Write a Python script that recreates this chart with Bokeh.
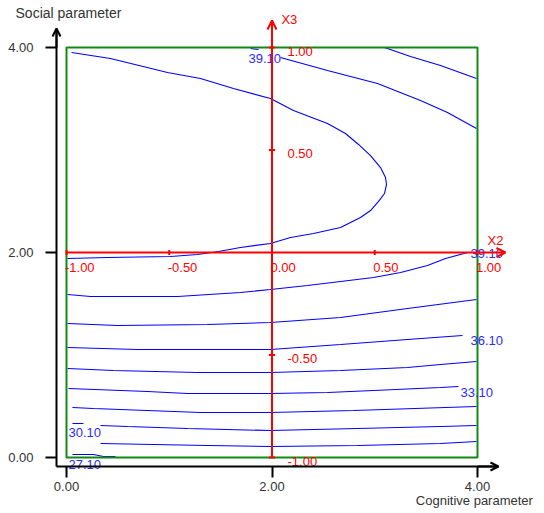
from bokeh.plotting import figure
from bokeh.models import Range1d, FixedTicker, PrintfTickFormatter, Arrow, OpenHead, Label
from bokeh.embed import file_html
from bokeh.resources import INLINE
from bokeh.core.properties import value

# ---- axes / annotation data ----
axis_ticks = [0.0, 2.0, 4.0]
box_x = [0.0, 4.0]
box_y = [0.0, 4.0]
x_title = "Cognitive parameter"
y_title = "Social parameter"
coded_ticks = [-1.0, -0.5, 0.0, 0.5, 1.0]
coded_labels = ["-1.00", "-0.50", "0.00", "0.50", "1.00"]
coded_ticks_v = [-1.0, -0.5, 0.5, 1.0]
coded_labels_v = ["-1.00", "-0.50", "0.50", "1.00"]

# ---- contour lines (data units) ----
levels = [43.6, 42.1, 42.1, 40.6, 39.1, 37.6, 36.1, 34.6, 33.1, 31.6, 30.1, 30.1, 28.6, 27.1]
contour_xs = [
    [3.095, 3.348, 3.640, 3.990],
    [1.791, 1.869],
    [2.083, 2.540, 3.027, 3.445, 3.708, 3.990],
    [0.049, 0.428, 0.983, 1.304, 1.625, 1.985, 2.209, 2.540, 2.715, 2.842, 2.959, 3.056, 3.105, 3.114,
     3.095, 3.037, 2.959, 2.861, 2.667, 2.404, 2.180, 1.985, 1.693, 1.479, 1.275, 1.012, 0.399, 0.010],
    [0.010, 0.234, 1.080, 1.693, 1.985, 2.345, 2.667, 2.988, 3.251, 3.513, 3.689, 3.903],
    [0.010, 0.496, 1.372, 1.985, 2.667, 3.319, 3.990],
    [0.010, 0.691, 1.985, 2.667, 3.319, 3.854],
    [0.010, 0.457, 1.275, 1.985, 2.667, 3.319, 3.640, 3.990],
    [0.019, 0.788, 1.178, 1.985, 2.540, 2.988, 3.640, 3.815],
    [0.058, 0.263, 1.304, 1.985, 2.793, 3.990],
    [0.058, 0.165],
    [0.331, 0.594, 1.178, 1.985, 2.832, 3.640, 3.990],
    [0.331, 1.372, 1.985, 2.832, 3.640, 3.990],
    [0.058, 0.263, 0.360, 0.477],
]
contour_ys = [
    [4.000, 3.912, 3.824, 3.698],
    [3.990, 3.980],
    [3.902, 3.776, 3.649, 3.483, 3.366, 3.210],
    [3.951, 3.893, 3.756, 3.698, 3.600, 3.502, 3.385, 3.259, 3.161, 3.054, 2.946, 2.829, 2.732, 2.663,
     2.576, 2.498, 2.409, 2.341, 2.244, 2.185, 2.146, 2.088, 2.049, 2.010, 1.980, 1.961, 1.951, 1.941],
    [1.590, 1.571, 1.571, 1.610, 1.639, 1.678, 1.717, 1.756, 1.805, 1.873, 1.941, 2.000],
    [1.307, 1.288, 1.298, 1.317, 1.366, 1.454, 1.541],
    [1.073, 1.054, 1.054, 1.102, 1.151, 1.190],
    [0.868, 0.849, 0.829, 0.829, 0.849, 0.878, 0.907, 0.937],
    [0.673, 0.644, 0.624, 0.624, 0.634, 0.654, 0.683, 0.693],
    [0.488, 0.478, 0.439, 0.439, 0.459, 0.498],
    [0.332, 0.332],
    [0.312, 0.302, 0.283, 0.263, 0.283, 0.302, 0.312],
    [0.137, 0.117, 0.107, 0.117, 0.137, 0.156],
    [0.029, 0.029, 0.010, 0.010],
]
label_text = ["39.10", "39.10", "36.10", "33.10", "30.10", "27.10"]
label_x = [1.771, 3.932, 3.932, 3.835, 0.019, 0.019]
label_y = [3.888, 1.990, 1.141, 0.634, 0.244, -0.068]

# ---- figure: frame fills the whole canvas, axes are pinned inside it ----
XS, XE = -0.6423, 4.6131
YS, YE = -0.5171, 4.4585
AX_X = -0.0973   # where the vertical black axis sits
AX_Y = -0.0878   # where the horizontal black axis sits
p = figure(width=540, height=510, x_range=Range1d(XS, XE), y_range=Range1d(YS, YE),
           output_backend="svg", toolbar_location=None,
           min_border_left=0, min_border_right=0, min_border_top=0, min_border_bottom=0)
p.outline_line_color = None
p.grid.visible = False
p.background_fill_color = "white"
p.border_fill_color = "white"

for ax in (p.xaxis[0], p.yaxis[0]):
    ax.ticker = FixedTicker(ticks=axis_ticks)
    ax.formatter = PrintfTickFormatter(format="%.2f")
    ax.axis_line_width = 2
    ax.axis_line_color = "black"
    ax.major_tick_line_width = 2
    ax.major_tick_line_color = "black"
    ax.major_tick_in = 0
    ax.major_tick_out = 11
    ax.minor_tick_line_color = None
    ax.major_label_text_font = "Liberation Sans"
    ax.major_label_text_font_size = "13px"
    ax.major_label_text_color = "#333333"
p.xaxis.fixed_location = AX_Y
p.yaxis.fixed_location = AX_X
p.xaxis.bounds = (AX_X, 4.204)
p.yaxis.bounds = (AX_Y, 4.185)
p.xaxis.major_label_standoff = 5
p.yaxis.major_label_standoff = 12
p.xaxis.major_label_text_align = "left"

# axis arrows
p.add_layout(Arrow(end=OpenHead(size=8, line_color="black", line_width=2),
                   x_start=AX_X, y_start=4.0, x_end=AX_X, y_end=4.185,
                   line_color="black", line_width=2))
p.add_layout(Arrow(end=OpenHead(size=8, line_color="black", line_width=2),
                   x_start=4.0, y_start=AX_Y, x_end=4.204, y_end=AX_Y,
                   line_color="black", line_width=2))

# axis titles
p.add_layout(Label(x=-0.496, y=4.332, text=y_title, text_align="left", text_baseline="middle",
                   text_font="Liberation Sans", text_font_size="14px", text_color="#333333"))
p.add_layout(Label(x=3.40, y=-0.420, text=x_title, text_align="left", text_baseline="middle",
                   text_font="Liberation Sans", text_font_size="13px", text_color="#333333"))

# contours
p.multi_line(xs=contour_xs, ys=contour_ys, line_color="#0000ff", line_width=1.1)

# green frame
p.quad(left=[box_x[0]], right=[box_x[1]], bottom=[box_y[0]], top=[box_y[1]],
       fill_color=None, line_color="#128a12", line_width=2)

# red coded axes
cx = (box_x[0] + box_x[1]) / 2
cy = (box_y[0] + box_y[1]) / 2
hx = (box_x[1] - box_x[0]) / 2
hy = (box_y[1] - box_y[0]) / 2
p.add_layout(Arrow(end=OpenHead(size=9, line_color="red", line_width=2),
                   x_start=cx, y_start=box_y[0], x_end=cx, y_end=4.263,
                   line_color="red", line_width=2))
p.add_layout(Arrow(end=OpenHead(size=9, line_color="red", line_width=2),
                   x_start=box_x[0], y_start=cy, x_end=4.272, y_end=cy,
                   line_color="red", line_width=2))
tx = [cx + hx * c for c in coded_ticks]
ty = [cy + hy * c for c in coded_ticks_v]
p.segment(x0=tx, y0=[cy - 0.025] * len(tx), x1=tx, y1=[cy + 0.025] * len(tx), line_color="red", line_width=2)
p.segment(x0=[cx - 0.03] * len(ty), y0=ty, x1=[cx + 0.03] * len(ty), y1=ty, line_color="red", line_width=2)

p.text(x=[v - 0.015 for v in tx], y=[cy - 0.146] * len(tx), text=coded_labels,
       text_align="left", text_baseline="middle", text_color="red",
       text_font=value("Liberation Sans"), text_font_size="13px")
p.text(x=[cx + 0.151] * len(ty), y=[v - 0.035 for v in ty], text=coded_labels_v,
       text_align="left", text_baseline="middle", text_color="red",
       text_font=value("Liberation Sans"), text_font_size="13px")
p.text(x=[2.092, 4.097], y=[4.273, 2.117], text=["X3", "X2"],
       text_align="left", text_baseline="middle", text_color="red",
       text_font=value("Liberation Sans"), text_font_size="13px")

# contour labels
p.text(x=label_x, y=label_y, text=label_text, text_align="left", text_baseline="middle",
       text_color="#2a2aff", text_font=value("Liberation Sans"), text_font_size="13px")

open("out.html", "w").write(file_html(p, INLINE))
